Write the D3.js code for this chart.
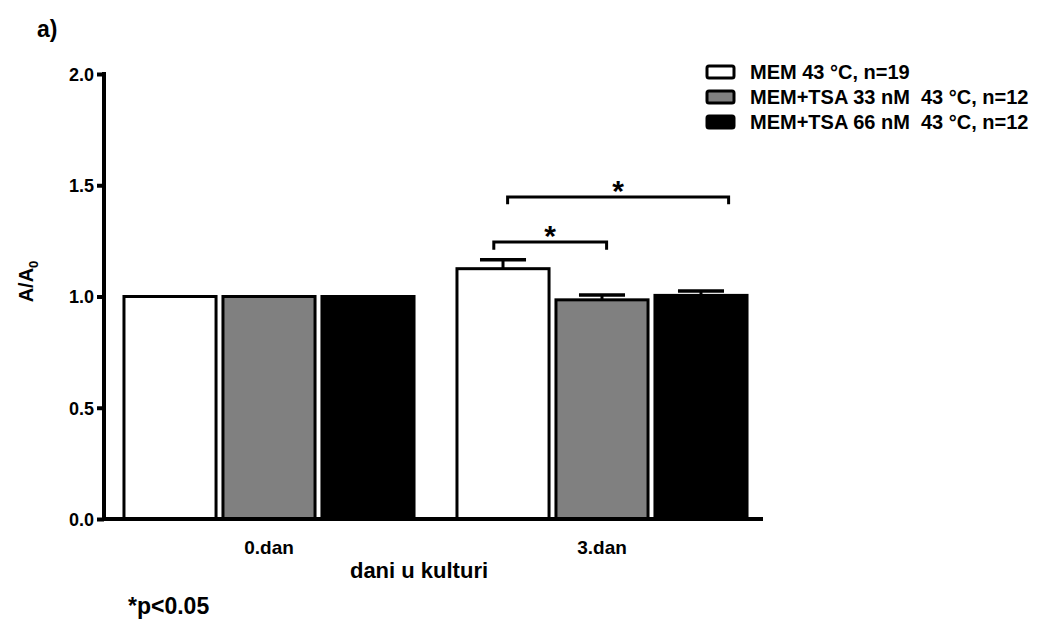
<!DOCTYPE html>
<html lang="hr">
<head>
  <meta charset="utf-8">
  <title>A/A0</title>
  <script src="https://cdn.jsdelivr.net/npm/d3@7"></script>
  <style>
    body {
      margin: 0;
      background: #ffffff;
    }
    svg text {
      font-family: "Liberation Sans", Arial, sans-serif;
      font-weight: bold;
      fill: #000;
    }
  </style>
</head>
<body>
  <svg id="chart" width="1037" height="623"></svg>

  <script>
    //
    // Data
    //
    var days = ['0.dan', '3.dan']
    var series = ['MEM 43 °C, n=19', 'MEM+TSA 33 nM  43 °C, n=12', 'MEM+TSA 66 nM  43 °C, n=12']
    var fills = ['#ffffff', '#808080', '#000000']
    // mean per day, one array per series
    var means = [
      [1.0, 1.125],
      [1.0, 0.985],
      [1.0, 1.005]
    ]
    // upper error (SEM), 0 = no bar
    var errors = [
      [0, 0.04],
      [0, 0.022],
      [0, 0.02]
    ]
    var yTicks = [0, 0.5, 1.0, 1.5, 2.0]
    // significance brackets on 3.dan: series index from/to, height
    var brackets = [
      { day: 1, from: 0, to: 1, y: 1.245, h: 0.035, dx0: -0.1, dx1: 0.05 },
      { day: 1, from: 0, to: 2, y: 1.447, h: 0.032, dx0: 0.05, dx1: 0.3 }
    ]

    //
    // Layout
    //
    var svg = d3.select('#chart')
    var plotLeft = 104, plotRight = 767, plotTop = 74, plotBottom = 519

    var y = d3.scaleLinear().domain([0, 2]).range([plotBottom, plotTop])
    var x0 = d3.scaleBand().domain(days).range([plotLeft, plotRight])
      .paddingInner(0.129).paddingOuter(0.06)
    var x1 = d3.scaleBand().domain(d3.range(series.length)).range([0, x0.bandwidth()])
      .paddingInner(0.07)

    function barCenter(day, s) {
      return x0(days[day]) + x1(s) + x1.bandwidth() / 2
    }

    // bars
    var rows = []
    days.forEach(function (d, di) {
      series.forEach(function (s, si) {
        rows.push({ day: di, s: si, v: means[si][di], e: errors[si][di] })
      })
    })

    var bars = svg.append('g')
    bars.selectAll('rect').data(rows).enter().append('rect')
      .attr('x', function (d) { return x0(days[d.day]) + x1(d.s) })
      .attr('y', function (d) { return y(d.v) })
      .attr('width', x1.bandwidth())
      .attr('height', function (d) { return y(0) - y(d.v) })
      .attr('fill', function (d) { return fills[d.s] })
      .attr('stroke', '#000')
      .attr('stroke-width', 3)

    // error bars (upper only)
    var eb = bars.selectAll('g.err').data(rows.filter(function (d) { return d.e > 0 }))
      .enter().append('g').attr('class', 'err')
    eb.append('line')
      .attr('x1', function (d) { return barCenter(d.day, d.s) })
      .attr('x2', function (d) { return barCenter(d.day, d.s) })
      .attr('y1', function (d) { return y(d.v) })
      .attr('y2', function (d) { return y(d.v + d.e) })
      .attr('stroke', '#000').attr('stroke-width', 3)
    eb.append('line')
      .attr('x1', function (d) { return barCenter(d.day, d.s) - x1.bandwidth() * 0.25 })
      .attr('x2', function (d) { return barCenter(d.day, d.s) + x1.bandwidth() * 0.25 })
      .attr('y1', function (d) { return y(d.v + d.e) })
      .attr('y2', function (d) { return y(d.v + d.e) })
      .attr('stroke', '#000').attr('stroke-width', 3.5)

    // significance brackets
    var bw = x1.bandwidth()
    var br = svg.append('g').selectAll('g').data(brackets).enter().append('g')
    br.append('path')
      .attr('d', function (d) {
        var xa = barCenter(d.day, d.from) + d.dx0 * bw
        var xb = barCenter(d.day, d.to) + d.dx1 * bw
        return 'M' + xa + ',' + y(d.y - d.h) + 'V' + y(d.y) + 'H' + xb + 'V' + y(d.y - d.h)
      })
      .attr('fill', 'none').attr('stroke', '#000').attr('stroke-width', 3)
    br.append('text')
      .attr('x', function (d) {
        return (barCenter(d.day, d.from) + d.dx0 * bw + barCenter(d.day, d.to) + d.dx1 * bw) / 2
      })
      .attr('y', function (d) { return y(d.y) + 4 })
      .attr('text-anchor', 'middle')
      .attr('font-size', 30)
      .text('*')

    // y axis
    var yAxis = svg.append('g').attr('transform', 'translate(' + plotLeft + ',0)')
      .call(d3.axisLeft(y).tickValues(yTicks).tickFormat(d3.format('.1f')).tickSize(7).tickSizeOuter(0))
    yAxis.select('.domain').attr('stroke-width', 4).attr('d', 'M0,' + (plotTop - 2) + 'V' + (plotBottom + 2))
    yAxis.selectAll('.tick line').attr('stroke-width', 4)
    yAxis.selectAll('.tick text').attr('font-size', 18).attr('x', -10).attr('dy', '0.35em')

    // x axis
    var xAxis = svg.append('g').attr('transform', 'translate(0,' + plotBottom + ')')
      .call(d3.axisBottom(x0).tickSize(0).tickSizeOuter(0))
    xAxis.select('.domain').attr('stroke-width', 4).attr('d', 'M' + (plotLeft - 2) + ',0H' + (plotRight - 4))
    xAxis.selectAll('.tick text').attr('font-size', 19).attr('y', 22).attr('dy', '0.71em')

    // axis titles
    svg.append('text')
      .attr('transform', 'translate(33,' + (y(1) - 15) + ') rotate(-90)')
      .attr('text-anchor', 'middle')
      .attr('font-size', 20)
      .html('A/A<tspan font-size="13" dy="5">0</tspan>')

    svg.append('text')
      .attr('x', 419).attr('y', 578)
      .attr('text-anchor', 'middle')
      .attr('font-size', 22)
      .text('dani u kulturi')

    svg.append('text').attr('x', 37).attr('y', 37).attr('font-size', 23).text('a)')
    svg.append('text').attr('x', 128).attr('y', 614).attr('font-size', 23).text('*p<0.05')

    // legend
    var legend = svg.append('g').selectAll('g').data(series).enter().append('g')
      .attr('transform', function (d, i) { return 'translate(707,' + (72 + i * 25) + ')' })
    legend.append('rect')
      .attr('x', 0).attr('y', -6).attr('width', 27).attr('height', 12).attr('rx', 2)
      .attr('fill', function (d, i) { return fills[i] })
      .attr('stroke', '#000').attr('stroke-width', 3)
    legend.append('text')
      .attr('x', 43).attr('dy', '0.35em')
      .attr('font-size', 20)
      .style('white-space', 'pre')
      .text(function (d) { return d })
  </script>
</body>
</html>
